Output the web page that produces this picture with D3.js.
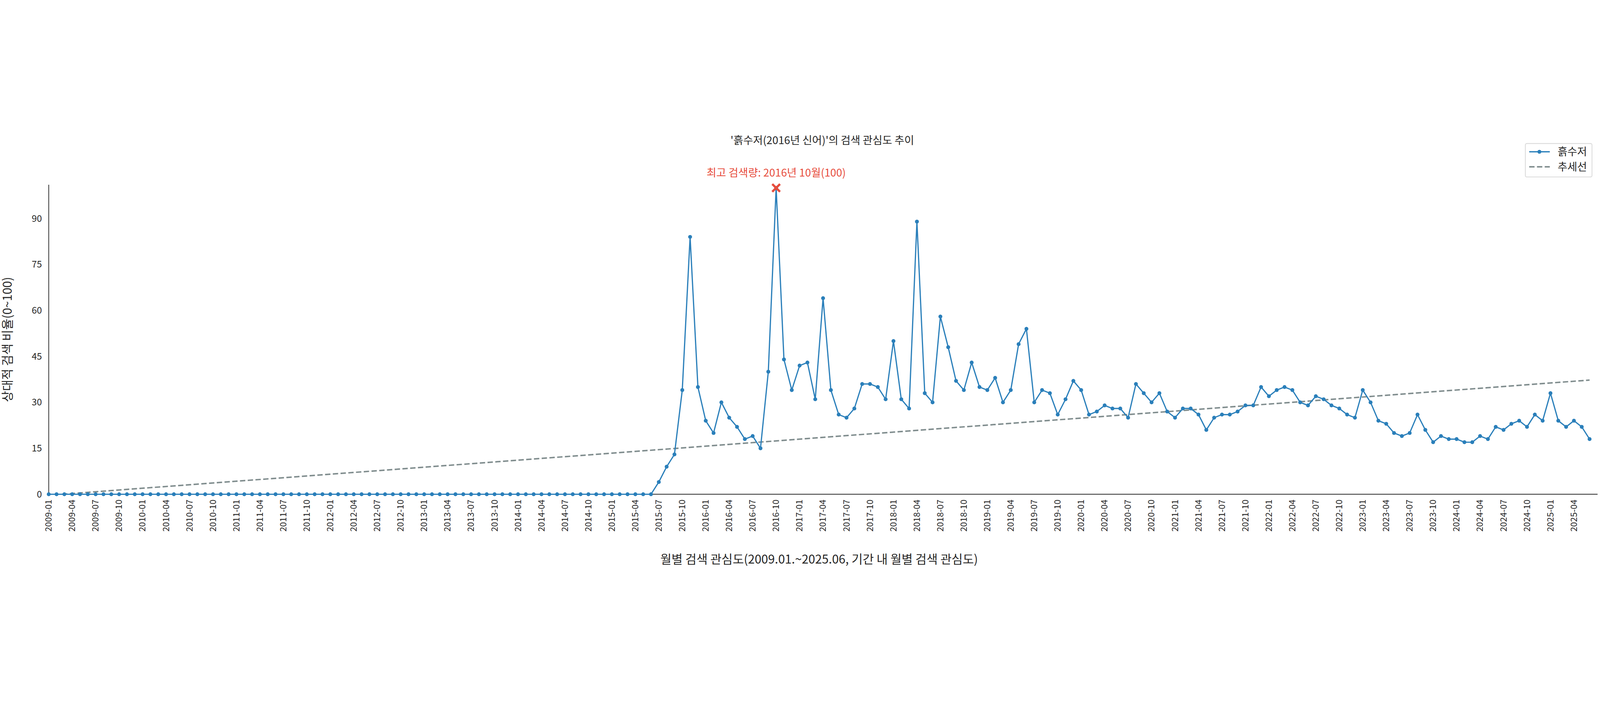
<!DOCTYPE html>
<html><head><meta charset="utf-8">
<script src="https://cdn.jsdelivr.net/npm/d3@7"></script>
<style>html,body{margin:0;padding:0;background:#fff;overflow:hidden}svg{display:block;width:100vw;height:100vh}text{font-family:"Noto Sans CJK KR","Noto Sans",sans-serif;fill:#262626}</style>
</head><body><svg id="c" viewBox="0 0 6600 1800" preserveAspectRatio="xMidYMid meet"></svg>
<script>
const startYear = 2009, startMonth = 1;
const zeroMonths = 78; // 2009-01 .. 2015-06 all zero
const values2015H2 = [4,9,13,34,84,35];
const values2016 = [24,20,30,25,22,18,19,15,40,100,44,34];
const values2017 = [42,43,31,64,34,26,25,28,36,36,35,31];
const values2018 = [50,31,28,89,33,30,58,48,37,34,43,35];
const values2019 = [34,38,30,34,49,54,30,34,33,26,31,37];
const values2020 = [34,26,27,29,28,28,25,36,33,30,33,27];
const values2021 = [25,28,28,26,21,25,26,26,27,29,29,35];
const values2022 = [32,34,35,34,30,29,32,31,29,28,26,25];
const values2023 = [34,30,24,23,20,19,20,26,21,17,19,18];
const values2024 = [18,17,17,19,18,22,21,23,24,22,26,24];
const values2025H1 = [33,24,22,24,22,18];
const yTicks = [0,15,30,45,60,75,90];
const title = "'흙수저(2016년 신어)'의 검색 관심도 추이";
const xLabel = "월별 검색 관심도(2009.01.~2025.06, 기간 내 월별 검색 관심도)";
const yLabel = "상대적 검색 비율(0~100)";
const seriesName = "흙수저", trendName = "추세선";

const values = [].concat(new Array(zeroMonths).fill(0), values2015H2, values2016, values2017, values2018,
  values2019, values2020, values2021, values2022, values2023, values2024, values2025H1);
const labels = values.map((v,i)=>{const m=startMonth-1+i;return `${startYear+Math.floor(m/12)}-${String(m%12+1).padStart(2,'0')}`;});
const n = values.length;
const mx = d3.mean(values,(d,i)=>i), my = d3.mean(values);
const slope = d3.sum(values,(d,i)=>(i-mx)*(d-my))/d3.sum(values,(d,i)=>(i-mx)*(i-mx));
const icpt = my - slope*mx;

const svg = d3.select("#c");
const L=201, R=6557, T=212, B=1489;
const x = d3.scaleLinear().domain([0,n-1]).range([L,R]);
const y = d3.scaleLinear().domain([0,100]).range([B,225]);
const blue="#2a7fba", gray="#7f8c8d", red="#e74c3c";

svg.append("line").attr("x1",L).attr("x2",L).attr("y1",T).attr("y2",B).attr("stroke","#262626").attr("stroke-width",3);
svg.append("line").attr("x1",L).attr("x2",6590).attr("y1",B).attr("y2",B).attr("stroke","#262626").attr("stroke-width",3);
svg.selectAll(".yt").data(yTicks).join("text").attr("x",L-28).attr("y",d=>y(d)).attr("dy","0.35em")
  .attr("text-anchor","end").attr("font-size",38).text(d=>d);
const tickIdx = d3.range(0,n,3);
svg.selectAll(".xt").data(tickIdx).join("text")
  .attr("transform",i=>`translate(${x(i)+12},${B+22}) rotate(-90)`).attr("text-anchor","end")
  .attr("font-size",36).text(i=>labels[i]);
svg.append("text").attr("x",(L+R)/2).attr("y",1775).attr("text-anchor","middle").attr("font-size",50).text(xLabel);
svg.append("text").attr("transform",`translate(48,${(T+B)/2}) rotate(-90)`).attr("text-anchor","middle").attr("font-size",50).text(yLabel);
svg.append("text").attr("x",3392).attr("y",45).attr("text-anchor","middle").attr("font-size",44).text(title);

const t0 = Math.max(0, -icpt/slope);
svg.append("defs").append("clipPath").attr("id","clip").append("rect").attr("x",L).attr("y",0).attr("width",R-L+40).attr("height",B);
svg.append("line").attr("clip-path","url(#clip)").attr("x1",x(t0)).attr("y1",y(icpt+slope*t0)).attr("x2",x(n-1)).attr("y2",y(icpt+slope*(n-1)))
  .attr("stroke",gray).attr("stroke-width",6).attr("stroke-dasharray","22,10");
svg.append("path").datum(values).attr("fill","none").attr("stroke",blue).attr("stroke-width",5)
  .attr("d",d3.line().x((d,i)=>x(i)).y(d=>y(d)));
svg.selectAll(".pt").data(values).join("circle").attr("cx",(d,i)=>x(i)).attr("cy",d=>y(d)).attr("r",8).attr("fill",blue);
const pi = d3.maxIndex(values);
const px=x(pi), py=y(values[pi]);
svg.append("path").attr("d",`M${px-16},${py-16}L${px+16},${py+16}M${px-16},${py+16}L${px+16},${py-16}`).attr("stroke",red).attr("stroke-width",9);
const [yy,mm]=labels[pi].split("-");
svg.append("text").attr("x",px).attr("y",178).attr("text-anchor","middle").attr("font-size",44).style("fill",red)
  .text(`최고 검색량: ${yy}년 ${+mm}월(${values[pi]})`);
const lg = svg.append("g");
lg.append("rect").attr("x",6292).attr("y",42).attr("width",275).attr("height",138).attr("rx",6).attr("fill","#fff").attr("stroke","#d6d6d6").attr("stroke-width",3);
lg.append("line").attr("x1",6308).attr("x2",6393).attr("y1",76).attr("y2",76).attr("stroke",blue).attr("stroke-width",5);
lg.append("circle").attr("cx",6350).attr("cy",76).attr("r",8).attr("fill",blue);
lg.append("line").attr("x1",6308).attr("x2",6393).attr("y1",138).attr("y2",138).attr("stroke",gray).attr("stroke-width",6).attr("stroke-dasharray","22,10");
lg.append("text").attr("x",6425).attr("y",76).attr("dy","0.35em").attr("font-size",44).text(seriesName);
lg.append("text").attr("x",6425).attr("y",138).attr("dy","0.35em").attr("font-size",44).text(trendName);
</script></body></html>
